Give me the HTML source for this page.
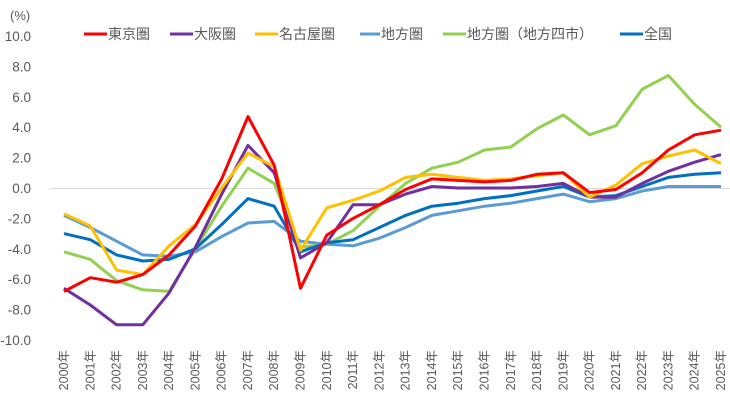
<!DOCTYPE html>
<html><head><meta charset="utf-8"><style>
body{margin:0;background:#fff;}
svg text{font-family:"Liberation Sans","Noto Sans CJK JP",sans-serif;fill:#595959;}
</style></head><body>
<svg id="s" width="730" height="410" xmlns="http://www.w3.org/2000/svg">
<text x="10" y="20" font-size="13">(%)</text>
<line x1="50" y1="188.5" x2="730" y2="188.5" stroke="#d9d9d9" stroke-width="1"/>
<g font-size="14" fill="#404040">
<line x1="84" y1="34" x2="107" y2="34" stroke="#FF0000" stroke-width="3"/><text x="108" y="39">東京圏</text>
<line x1="170" y1="34" x2="193" y2="34" stroke="#7030A0" stroke-width="3"/><text x="194" y="39">大阪圏</text>
<line x1="255" y1="34" x2="278" y2="34" stroke="#FFC000" stroke-width="3"/><text x="279" y="39">名古屋圏</text>
<line x1="360" y1="34" x2="380" y2="34" stroke="#5B9BD5" stroke-width="3"/><text x="381" y="39">地方圏</text>
<line x1="443" y1="34" x2="466" y2="34" stroke="#92D050" stroke-width="3"/><text x="467" y="39">地方圏（地方四市）</text>
<line x1="620" y1="34" x2="643" y2="34" stroke="#0070C0" stroke-width="3"/><text x="644" y="39">全国</text>
</g>
<g id="ax"></g>
<g id="lines" fill="none" stroke-width="3" stroke-linejoin="round"></g>
</svg>
<script>
var y0=188,sc=15.2,x0=64,dx=26.28,ns="http://www.w3.org/2000/svg";
function Y(v){return y0-v*sc}
var ax=document.getElementById("ax");
for(var v=10;v>=-10;v-=2){var t=document.createElementNS(ns,"text");t.setAttribute("x",31);t.setAttribute("y",Y(v)+5);t.setAttribute("text-anchor","end");t.setAttribute("font-size","13.5");t.textContent=v.toFixed(1);ax.appendChild(t);}
for(var i=0;i<26;i++){var x=x0+i*dx;var t=document.createElementNS(ns,"text");t.setAttribute("transform","translate("+(x+4)+",350) rotate(-90)");t.setAttribute("text-anchor","end");t.setAttribute("font-size","12.5");t.textContent=(2000+i)+"年";ax.appendChild(t);}
var D=[
["#5B9BD5",[-1.8,-2.6,-3.5,-4.4,-4.5,-4.2,-3.2,-2.3,-2.2,-3.5,-3.7,-3.8,-3.3,-2.6,-1.8,-1.5,-1.2,-1.0,-0.7,-0.4,-0.9,-0.7,-0.2,0.1,0.1,0.1]],
["#92D050",[-4.2,-4.7,-6.1,-6.7,-6.8,-4.0,-1.2,1.3,0.3,-3.9,-3.7,-2.8,-1.2,0.3,1.3,1.7,2.5,2.7,3.9,4.8,3.5,4.1,6.5,7.4,5.5,4.0]],
["#0070C0",[-3.0,-3.4,-4.4,-4.8,-4.7,-4.0,-2.4,-0.7,-1.2,-4.2,-3.6,-3.4,-2.6,-1.8,-1.2,-1.0,-0.7,-0.5,-0.2,0.1,-0.6,-0.5,0.1,0.7,0.9,1.0]],
["#7030A0",[-6.6,-7.7,-9.0,-9.0,-6.9,-3.9,-0.4,2.8,1.0,-4.6,-3.6,-1.1,-1.1,-0.4,0.1,0,0,0,0.1,0.3,-0.6,-0.6,0.3,1.1,1.7,2.2]],
["#FFC000",[-1.7,-2.5,-5.4,-5.7,-3.8,-2.4,0.0,2.3,1.4,-4.1,-1.3,-0.8,-0.2,0.7,0.9,0.7,0.5,0.6,0.8,1.0,-0.6,0.2,1.6,2.1,2.5,1.6]],
["#FF0000",[-6.8,-5.9,-6.2,-5.7,-4.4,-2.5,0.6,4.7,1.5,-6.6,-3.1,-2.0,-1.1,-0.1,0.6,0.5,0.4,0.5,0.9,1.0,-0.3,-0.1,1.0,2.5,3.5,3.8]]
];
var g=document.getElementById("lines");
D.forEach(function(d){var p=document.createElementNS(ns,"polyline");p.setAttribute("stroke",d[0]);p.setAttribute("points",d[1].map(function(v,i){return (x0+i*dx).toFixed(1)+","+Y(v).toFixed(1)}).join(" "));g.appendChild(p);});
</script>
</body></html>
